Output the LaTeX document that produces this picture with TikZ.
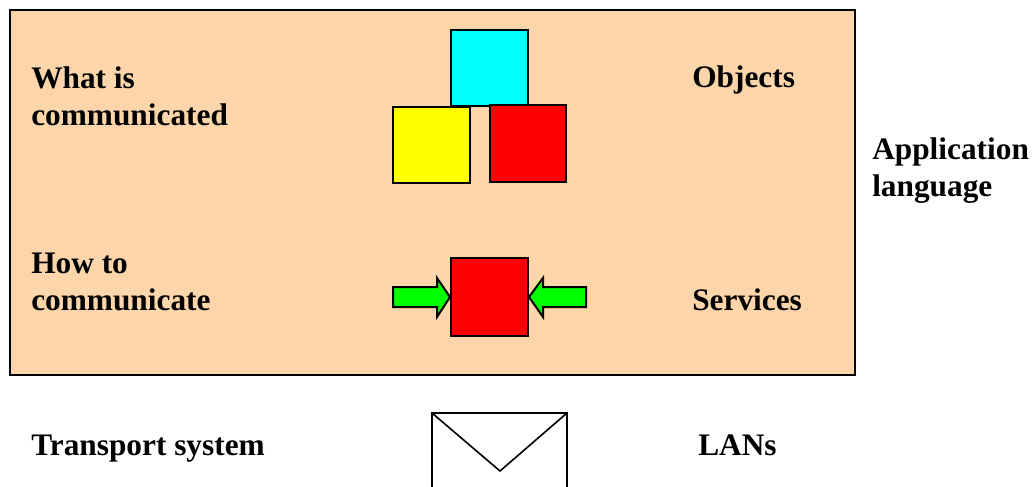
\documentclass[tikz,border=0pt]{standalone}
\usepackage{fontspec}
\setmainfont{Liberation Serif}
\definecolor{peach}{RGB}{252,213,170}
\definecolor{aqua}{RGB}{0,255,255}
\definecolor{lime}{RGB}{0,255,0}
\definecolor{pured}{RGB}{255,0,0}
\definecolor{puyellow}{RGB}{255,255,0}
\begin{document}
\begin{tikzpicture}[x=0.75pt,y=-0.75pt,
  lbl/.style={font=\fontsize{23.5}{27.75}\selectfont\bfseries, inner sep=0pt, anchor=base west, align=left},
  sq/.style={draw=black, line width=1.5pt},
  arr/.style={draw=black, line width=1.5pt, fill=lime, line join=miter}]
\useasboundingbox (0,0) rectangle (1032,486);
% application frame
\draw[fill=peach, line width=1.5pt] (10,10) rectangle (855,375);
% object squares
\draw[sq, fill=aqua] (451,30) rectangle (528,106);
\draw[sq, fill=puyellow] (393,107) rectangle (470,183);
\draw[sq, fill=pured] (490,105) rectangle (566,182);
% service square and arrows
\node[sq, fill=pured, minimum width=57.75pt, minimum height=58.5pt, inner sep=0pt] (svc) at (489.5,297) {};
\draw[arr] (393,287) -- (437,287) -- (437,278) -- (svc.west) -- (437,317) -- (437,307) -- (393,307) -- cycle;
\draw[arr] (586,287) -- (543,287) -- (543,278) -- (svc.east) -- (543,317) -- (543,307) -- (586,307) -- cycle;
% envelope
\draw[line width=1.5pt] (432,495) -- (432,413) -- (567,413) -- (567,495);
\coordinate (vtip) at (500,471);
\draw[line width=1.2pt] (432,413) -- (vtip) -- (567,413);
% labels (base anchor = baseline of last line)
\node[lbl] (what) at (31,125) {What is\\communicated};
\node[lbl] (how) at (31,310) {How to\\communicate};
\node[lbl] (trans) at (31,455) {Transport system};
\node[lbl] (obj) at (692,87) {Objects};
\node[lbl] (serv) at (692,310) {Services};
\node[lbl] (lans) at (698,455) {LANs};
\node[lbl] (app) at (872,196) {Application\\language};
\end{tikzpicture}
\end{document}
